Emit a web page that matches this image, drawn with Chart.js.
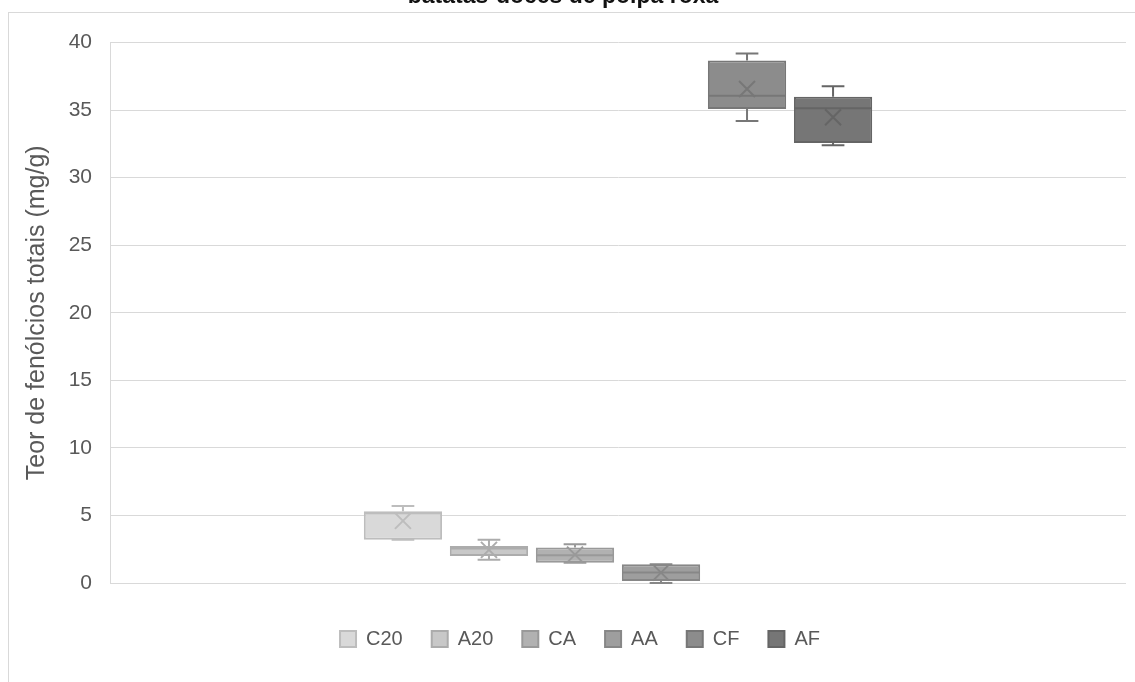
<!DOCTYPE html>
<html><head><meta charset="utf-8">
<script src="https://cdn.jsdelivr.net/npm/chart.js@4"></script>
<style>
html,body{margin:0;padding:0;background:#fff;overflow:hidden;width:1135px;height:682px;position:relative}
#wrap{position:absolute;left:0;top:-17px;width:1135px;height:699px}
#frameTop{position:absolute;left:8px;top:12px;width:1127px;height:1px;background:#d9d9d9}
#frameLeft{position:absolute;left:8px;top:12px;width:1px;height:670px;background:#d9d9d9}
</style></head><body>
<div id="wrap"><canvas id="c" width="1135" height="699"></canvas></div>
<div id="frameTop"></div><div id="frameLeft"></div>
<script>
// ---- data ----
const categories = [''];
const seriesNames = ['C20', 'A20', 'CA', 'AA', 'CF', 'AF'];
const minValues    = [3.20, 1.73, 1.50, 0.00, 34.20, 32.40];
const q1Values     = [3.20, 2.00, 1.50, 0.15, 35.08, 32.57];
const medianValues = [5.16, 2.55, 2.05, 0.77, 36.07, 35.14];
const q3Values     = [5.31, 2.74, 2.62, 1.38, 38.67, 36.00];
const maxValues    = [5.70, 3.20, 2.87, 1.38, 39.20, 36.76];
const meanValues   = [4.60, 2.45, 2.10, 0.77, 36.57, 34.47];
const yTickValues  = [0, 5, 10, 15, 20, 25, 30, 35, 40];
const chartTitle = 'batatas-doces de polpa roxa';
const yAxisTitle = 'Teor de fenólcios totais (mg/g)';

// ---- styles ----
const fillColors = ['#d9d9d9', '#c8c8c8', '#b1b1b1', '#9e9e9e', '#8c8c8c', '#767676'];
const lineColors = ['#bdbdbd', '#acacac', '#999999', '#878787', '#777777', '#656565'];
const FONT = "'Liberation Sans', Arial, sans-serif";

const datasets = seriesNames.map((name, i) => ({
  label: name,
  data: [[q1Values[i], q3Values[i]]],
  backgroundColor: fillColors[i],
  borderColor: lineColors[i],
  borderWidth: 2,
  borderSkipped: false,
  categoryPercentage: 0.508,
  barPercentage: 0.91
}));

const boxPlugin = {
  id: 'boxExtras',
  afterLayout(chart) {
    if (chart.legend) { chart.legend.left += 17; chart.legend.right += 17; }
  },
  afterDatasetsDraw(chart) {
    const ctx = chart.ctx;
    const y = chart.scales.y;
    chart.data.datasets.forEach((ds, i) => {
      const meta = chart.getDatasetMeta(i);
      if (meta.hidden) return;
      const bar = meta.data[0];
      const x = bar.x, w = bar.width;
      const half = w / 2;
      const cap = w * 0.145;
      ctx.save();
      ctx.strokeStyle = lineColors[i];
      ctx.lineWidth = 2;
      ctx.beginPath();
      if (maxValues[i] > q3Values[i]) {
        ctx.moveTo(x, y.getPixelForValue(q3Values[i]));
        ctx.lineTo(x, y.getPixelForValue(maxValues[i]));
      }
      ctx.moveTo(x - cap, y.getPixelForValue(maxValues[i]));
      ctx.lineTo(x + cap, y.getPixelForValue(maxValues[i]));
      if (minValues[i] < q1Values[i]) {
        ctx.moveTo(x, y.getPixelForValue(q1Values[i]));
        ctx.lineTo(x, y.getPixelForValue(minValues[i]));
      }
      ctx.moveTo(x - cap, y.getPixelForValue(minValues[i]));
      ctx.lineTo(x + cap, y.getPixelForValue(minValues[i]));
      ctx.moveTo(x - half + 1, y.getPixelForValue(medianValues[i]));
      ctx.lineTo(x + half - 1, y.getPixelForValue(medianValues[i]));
      ctx.stroke();
      const my = y.getPixelForValue(meanValues[i]);
      const s = 8;
      ctx.beginPath();
      ctx.moveTo(x - s, my - s); ctx.lineTo(x + s, my + s);
      ctx.moveTo(x + s, my - s); ctx.lineTo(x - s, my + s);
      ctx.stroke();
      ctx.restore();
    });
  }
};

new Chart(document.getElementById('c'), {
  type: 'bar',
  data: { labels: categories, datasets },
  options: {
    responsive: false,
    animation: false,
    devicePixelRatio: 1,
    layout: { padding: { left: 0, right: 9, top: 0, bottom: 23 } },
    plugins: {
      title: {
        display: true, text: chartTitle, color: '#111',
        font: { family: FONT, size: 23, weight: 'bold' },
        padding: { top: 0, bottom: 32 }
      },
      legend: {
        position: 'bottom',
        labels: {
          color: '#595959', font: { family: FONT, size: 20 },
          boxWidth: 16, boxHeight: 16, padding: 29
        }
      },
      tooltip: { enabled: false }
    },
    scales: {
      x: {
        display: true,
        grid: { display: false, drawTicks: false },
        border: { display: false },
        ticks: { display: false },
        afterFit(scale) { scale.height = 17; }
      },
      y: {
        min: 0, max: 40,
        afterBuildTicks(scale) { scale.ticks = yTickValues.map(v => ({ value: v })); },
        afterFit(scale) { scale.width = 110; },
        grid: { color: '#d9d9d9', lineWidth: 1, drawTicks: false },
        border: { display: true, color: '#d9d9d9' },
        ticks: { color: '#595959', font: { family: FONT, size: 21 }, padding: 18 },
        title: {
          display: true, text: yAxisTitle, color: '#595959',
          font: { family: FONT, size: 25 }, padding: { top: 22, bottom: 0 }
        }
      }
    }
  },
  plugins: [boxPlugin]
});
</script>
</body></html>
